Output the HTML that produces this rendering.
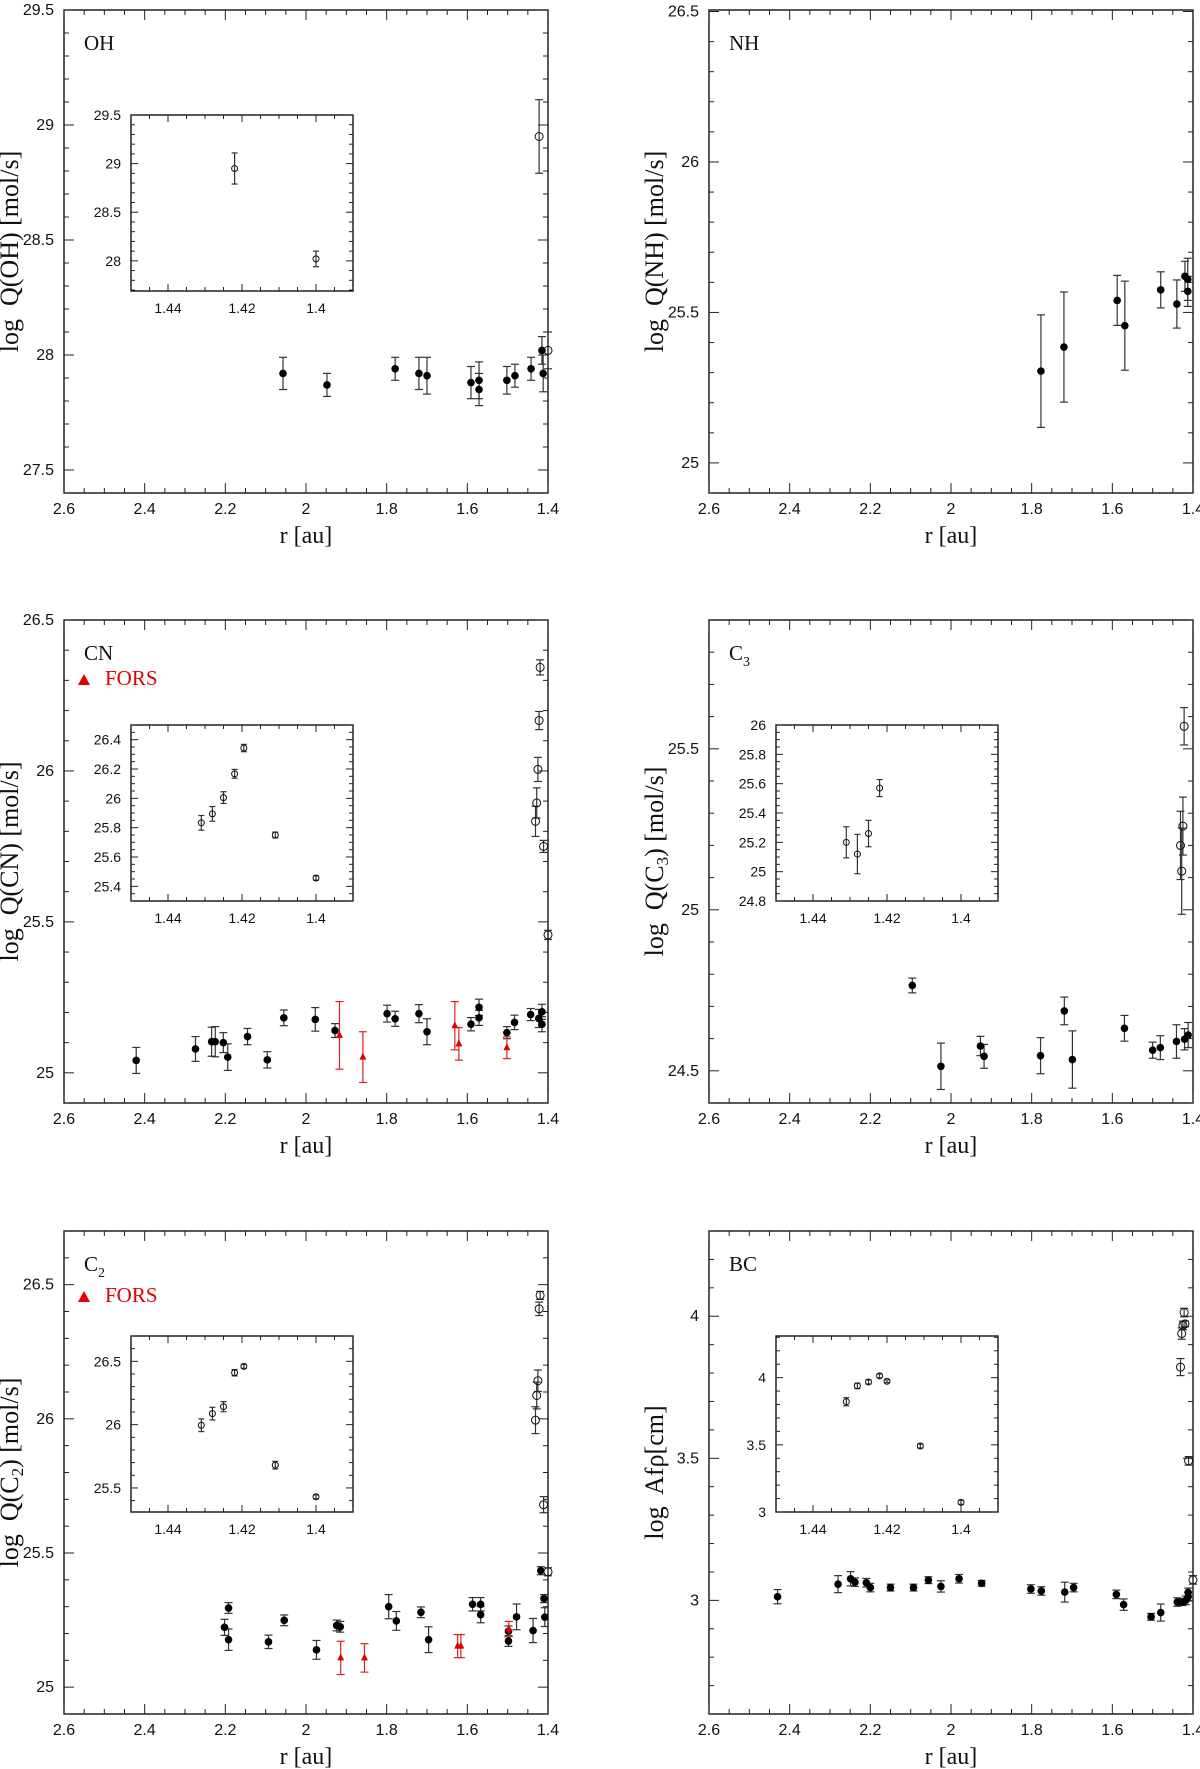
<!DOCTYPE html>
<html><head><meta charset="utf-8"><title>Production rates vs heliocentric distance</title>
<style>
html,body{margin:0;padding:0;background:#fff;}
svg{display:block;}
text{font-family:"Liberation Serif",serif;fill:#111;}
.tk{font-family:"Liberation Sans",sans-serif;font-size:16px;}
.itk{font-family:"Liberation Sans",sans-serif;font-size:14px;}
.yt{white-space:pre;}
</style></head>
<body>
<svg id="fig" xmlns="http://www.w3.org/2000/svg" width="1200" height="1769" viewBox="0 0 1200 1769"></svg>
<script>
// ---------- DATA ----------
// OH
const OH_r = [2.057,1.948,1.779,1.720,1.700,1.591,1.571,1.571,1.502,1.482,1.442,1.415,1.412];
const OH_q = [27.92,27.87,27.94,27.92,27.91,27.88,27.89,27.85,27.89,27.91,27.94,28.02,27.92];
const OH_e = [0.07,0.05,0.05,0.07,0.08,0.07,0.08,0.07,0.06,0.05,0.05,0.06,0.08];
const OH_or = [1.422,1.400];
const OH_oq = [28.95,28.02];
const OH_oe = [0.16,0.08];
// NH
const NH_r = [1.777,1.720,1.588,1.569,1.480,1.440,1.420,1.413,1.413];
const NH_q = [25.305,25.385,25.54,25.456,25.575,25.528,25.62,25.61,25.57];
const NH_e = [0.187,0.183,0.083,0.148,0.06,0.08,0.05,0.07,0.05];
// CN
const CN_r = [2.421,2.274,2.234,2.225,2.205,2.194,2.145,2.096,2.055,1.977,1.928,1.799,1.779,1.720,1.700,1.591,1.571,1.571,1.502,1.483,1.443,1.423,1.415,1.415];
const CN_q = [25.041,25.079,25.103,25.103,25.100,25.052,25.120,25.043,25.182,25.177,25.140,25.196,25.179,25.196,25.136,25.161,25.217,25.182,25.133,25.167,25.193,25.180,25.202,25.161];
const CN_e = [0.043,0.041,0.048,0.05,0.033,0.044,0.027,0.027,0.026,0.039,0.023,0.028,0.025,0.03,0.043,0.022,0.027,0.025,0.02,0.024,0.02,0.03,0.025,0.025];
const CN_fr = [1.917,1.859,1.631,1.621,1.502];
const CN_fq = [25.124,25.052,25.156,25.096,25.083];
const CN_fe = [0.112,0.084,0.08,0.054,0.036];
const CN_or = [1.431,1.428,1.425,1.422,1.4195,1.411,1.400];
const CN_oq = [25.833,25.894,26.005,26.167,26.343,25.75,25.457];
const CN_oe = [0.05,0.05,0.04,0.03,0.025,0.02,0.015];
// C3
const C3_r = [2.096,2.025,1.927,1.918,1.778,1.719,1.699,1.570,1.500,1.481,1.441,1.421,1.412];
const C3_q = [24.765,24.514,24.577,24.545,24.547,24.686,24.535,24.632,24.564,24.572,24.591,24.598,24.611];
const C3_e = [0.023,0.072,0.03,0.037,0.056,0.043,0.089,0.04,0.025,0.037,0.052,0.033,0.039];
const C3_or = [1.431,1.428,1.425,1.422];
const C3_oq = [25.2,25.12,25.26,25.57];
const C3_oe = [0.106,0.134,0.09,0.058];
// C2
const C2_r = [2.202,2.192,2.192,2.093,2.054,1.974,1.924,1.915,1.795,1.776,1.715,1.696,1.587,1.567,1.567,1.498,1.498,1.478,1.437,1.418,1.410,1.408];
const C2_q = [25.223,25.295,25.177,25.169,25.249,25.139,25.230,25.225,25.300,25.247,25.279,25.177,25.309,25.309,25.270,25.172,25.208,25.262,25.211,25.434,25.330,25.261];
const C2_e = [0.03,0.02,0.04,0.025,0.02,0.035,0.02,0.02,0.045,0.035,0.02,0.048,0.025,0.025,0.03,0.02,0.02,0.048,0.045,0.015,0.015,0.035];
const C2_fr = [1.914,1.855,1.624,1.616,1.497];
const C2_fq = [25.109,25.109,25.153,25.153,25.217];
const C2_fe = [0.062,0.053,0.043,0.043,0.028];
const C2_or = [1.431,1.428,1.425,1.422,1.4195,1.411,1.400];
const C2_oq = [25.995,26.087,26.142,26.41,26.46,25.68,25.43];
const C2_oe = [0.05,0.05,0.04,0.025,0.015,0.03,0.015];
// BC (Afrho)
const BC_r = [2.430,2.280,2.249,2.238,2.210,2.200,2.150,2.093,2.056,2.025,1.980,1.924,1.802,1.776,1.718,1.696,1.590,1.572,1.504,1.480,1.439,1.426,1.418,1.412,1.412];
const BC_q = [3.013,3.057,3.076,3.064,3.062,3.045,3.045,3.045,3.071,3.049,3.076,3.060,3.040,3.033,3.029,3.045,3.021,2.985,2.942,2.957,2.994,2.994,3.000,3.013,3.028];
const BC_e = [0.025,0.03,0.025,0.015,0.015,0.015,0.012,0.012,0.012,0.02,0.015,0.01,0.015,0.015,0.035,0.015,0.015,0.02,0.012,0.03,0.015,0.012,0.015,0.015,0.015];
const BC_or = [1.431,1.428,1.425,1.422,1.420,1.411,1.400];
const BC_oq = [3.821,3.939,3.968,4.013,3.973,3.491,3.072];
const BC_oe = [0.03,0.02,0.015,0.015,0.01,0.015,0.015];
// tick values
const X_ticks = [2.6,2.4,2.2,2,1.8,1.6,1.4];
const IX_ticks = [1.44,1.42,1.4];
const OH_yt = [27.5,28,28.5,29,29.5];
const OH_iyt = [28,28.5,29,29.5];
const NH_yt = [25,25.5,26,26.5];
const CN_yt = [25,25.5,26,26.5];
const CN_iyt = [25.4,25.6,25.8,26,26.2,26.4];
const C3_yt = [24.5,25,25.5];
const C3_iyt = [24.8,25,25.2,25.4,25.6,25.8,26];
const C2_yt = [25,25.5,26,26.5];
const C2_iyt = [25.5,26,26.5];
const BC_yt = [3,3.5,4];
const BC_iyt = [3,3.5,4];

// ---------- DRAWING ----------
const NS = "http://www.w3.org/2000/svg";
const svg = document.getElementById('fig');
function mk(tag, attrs, parent){
  const e = document.createElementNS(NS, tag);
  for (const k in attrs) e.setAttribute(k, attrs[k]);
  parent.appendChild(e);
  return e;
}
function fmt(v){ return String(+v.toFixed(3)); }

function axes(g, box, xd, yd, xt, xmin, yt, ymin, inset){
  const sx = v => box.x + (xd[0]-v)/(xd[0]-xd[1])*box.w;
  const sy = v => box.y + (yd[1]-v)/(yd[1]-yd[0])*box.h;
  const frame = mk('rect',{x:box.x,y:box.y,width:box.w,height:box.h,fill:'none',stroke:'#111','stroke-width':1.4},g);
  
  
  const L = inset ? 7 : 10, l = inset ? 4 : 5;
  const tg = mk('g',{stroke:'#222','stroke-width':1},g);
  
  
  const xlo = Math.min(xd[0],xd[1]), xhi = Math.max(xd[0],xd[1]);
  for (let v = Math.ceil(xlo/xmin-1e-6)*xmin; v <= xhi+1e-9; v += xmin){
    const X = sx(v);
    const major = xt.some(t => Math.abs(t-v) < 1e-6);
    const len = major ? L : l;
    mk('line',{x1:X,y1:box.y+box.h,x2:X,y2:box.y+box.h-len},tg);
    mk('line',{x1:X,y1:box.y,x2:X,y2:box.y+len},tg);
  }
  for (let v = Math.ceil(yd[0]/ymin-1e-6)*ymin; v <= yd[1]+1e-9; v += ymin){
    const Y = sy(v);
    const major = yt.some(t => Math.abs(t-v) < 1e-6);
    const len = major ? L : l;
    mk('line',{x1:box.x,y1:Y,x2:box.x+len,y2:Y},tg);
    mk('line',{x1:box.x+box.w,y1:Y,x2:box.x+box.w-len,y2:Y},tg);
  }
  xt.forEach(v => {
    const t = mk('text',{x:sx(v),y:box.y+box.h+(inset?22:21),'text-anchor':'middle','class':inset?'itk':'tk'},g);
    t.textContent = fmt(v);
    
    
  });
  yt.forEach(v => {
    const t = mk('text',{x:box.x-10,y:sy(v)+5,'text-anchor':'end','class':inset?'itk':'tk'},g);
    t.textContent = fmt(v);
    
    
  });
  return {sx, sy};
}

function errbars(g, s, rs, qs, es, color, cap, name){
  rs.forEach((r,i) => {
    const X = s.sx(r), y1 = s.sy(qs[i]-es[i]), y2 = s.sy(qs[i]+es[i]);
    const eg = mk('g',{stroke:color,'stroke-width':1.2},g);
    
    
    mk('line',{x1:X,y1:y1,x2:X,y2:y2},eg);
    mk('line',{x1:X-cap,y1:y1,x2:X+cap,y2:y1},eg);
    mk('line',{x1:X-cap,y1:y2,x2:X+cap,y2:y2},eg);
  });
}
function filled(g, s, rs, qs, es){
  errbars(g, s, rs, qs, es, '#333', 4, 'error-bar');
  rs.forEach((r,i) => {
    const c = mk('circle',{cx:s.sx(r),cy:s.sy(qs[i]),r:3.8,fill:'#000'},g);
    
    
  });
}
function openpts(g, s, rs, qs, es, rad, cap){
  errbars(g, s, rs, qs, es, '#333', cap, 'error-bar');
  rs.forEach((r,i) => {
    const c = mk('circle',{cx:s.sx(r),cy:s.sy(qs[i]),r:rad,fill:'none',stroke:'#111','stroke-width':1}, g);
    
    
  });
}
function fors(g, s, rs, qs, es){
  errbars(g, s, rs, qs, es, '#e02020', 4, 'fors-error-bar');
  rs.forEach((r,i) => {
    const X = s.sx(r), Y = s.sy(qs[i]);
    const t = mk('polygon',{points:`${X},${Y-4.5} ${X-3.5},${Y+2.5} ${X+3.5},${Y+2.5}`,fill:'#e00000'},g);
    
    
  });
}

const XD = [2.6,1.4], IXD = [1.45,1.39];
const W = 484, H = 483;
function panel(name, x0, y0, yd, yt, label, sub, ytitle, inset){
  const g = mk('g',{},svg);
  
  
  const box = {x:x0,y:y0,w:W,h:H};
  const s = axes(g, box, XD, yd, X_ticks, 0.05, yt, 0.1, false);
  const lb = mk('text',{x:x0+20,y:y0+40,'font-size':21},g);
  lb.textContent = label;
  if (sub){ const ts = mk('tspan',{'font-size':14,dy:6},lb); ts.textContent = sub; }
  
  
  const xt = mk('text',{x:x0+W/2,y:y0+H+50,'text-anchor':'middle','font-size':24},g);
  xt.textContent = 'r [au]';
  
  
  const yt2 = mk('text',{x:0,y:0,'text-anchor':'middle','font-size':26,'class':'yt',transform:`translate(${x0-46},${y0+H/2}) rotate(-90)`},g);
  yt2.innerHTML = ytitle;
  
  
  let si = null, ig = null;
  if (inset){
    ig = mk('g',{},g);
    
    
    mk('rect',{x:x0+67,y:y0+105,width:222,height:176,fill:'#fff'},ig);
    si = axes(ig, {x:x0+67,y:y0+105,w:222,h:176}, IXD, inset.yd, IX_ticks, 0.005, inset.yt, inset.ym, true);
  }
  return {g, s, ig, si};
}
function legend(g, x0, y0){
  const t = mk('polygon',{points:`${x0+20},${y0-6} ${x0+14},${y0+5} ${x0+26},${y0+5}`,fill:'#e00000'},g);
  
  
  const tx = mk('text',{x:x0+41,y:y0+5,'font-size':21,style:'fill:#e00000'},g);
  tx.textContent = 'FORS';
  
  
}

const LX = 64, RX = 709, T1 = 10, T2 = 620, T3 = 1231;

// OH
let p = panel('oh', LX, T1, [27.4,29.5], OH_yt, 'OH', '', 'log  Q(OH) [mol/s]', {yd:[27.69,29.5], yt:OH_iyt, ym:0.1});
filled(p.g, p.s, OH_r, OH_q, OH_e);
openpts(p.g, p.s, OH_or, OH_oq, OH_oe, 4, 4);
openpts(p.ig, p.si, OH_or, OH_oq, OH_oe, 3, 3);

// NH
p = panel('nh', RX, T1, [24.9,26.505], NH_yt, 'NH', '', 'log  Q(NH) [mol/s]', null);
filled(p.g, p.s, NH_r, NH_q, NH_e);

// CN
p = panel('cn', LX, T2, [24.9,26.5], CN_yt, 'CN', '', 'log  Q(CN) [mol/s]', {yd:[25.3,26.5], yt:CN_iyt, ym:0.05});
legend(p.g, LX, T2+60);
filled(p.g, p.s, CN_r, CN_q, CN_e);
fors(p.g, p.s, CN_fr, CN_fq, CN_fe);
openpts(p.g, p.s, CN_or, CN_oq, CN_oe, 4, 4);
openpts(p.ig, p.si, CN_or, CN_oq, CN_oe, 3, 3);

// C3
p = panel('c3', RX, T2, [24.4,25.9], C3_yt, 'C', '3', 'log  Q(C<tspan font-size="17" dy="5">3</tspan><tspan dy="-5">) [mol/s]</tspan>', {yd:[24.8,26.0], yt:C3_iyt, ym:0.05});
filled(p.g, p.s, C3_r, C3_q, C3_e);
openpts(p.g, p.s, C3_or, C3_oq, C3_oe, 4, 4);
openpts(p.ig, p.si, C3_or, C3_oq, C3_oe, 3, 3);

// C2
p = panel('c2', LX, T3, [24.9,26.7], C2_yt, 'C', '2', 'log  Q(C<tspan font-size="17" dy="5">2</tspan><tspan dy="-5">) [mol/s]</tspan>', {yd:[25.31,26.7], yt:C2_iyt, ym:0.1});
legend(p.g, LX, T3+66);
filled(p.g, p.s, C2_r, C2_q, C2_e);
fors(p.g, p.s, C2_fr, C2_fq, C2_fe);
openpts(p.g, p.s, C2_or, C2_oq, C2_oe, 4, 4);
openpts(p.ig, p.si, C2_or, C2_oq, C2_oe, 3, 3);

// BC
p = panel('bc', RX, T3, [2.6,4.3], BC_yt, 'BC', '', 'log  Afρ[cm]', {yd:[3.0,4.31], yt:BC_iyt, ym:0.1});
filled(p.g, p.s, BC_r, BC_q, BC_e);
openpts(p.g, p.s, BC_or, BC_oq, BC_oe, 4, 4);
openpts(p.ig, p.si, BC_or, BC_oq, BC_oe, 3, 3);
</script>
</body></html>
